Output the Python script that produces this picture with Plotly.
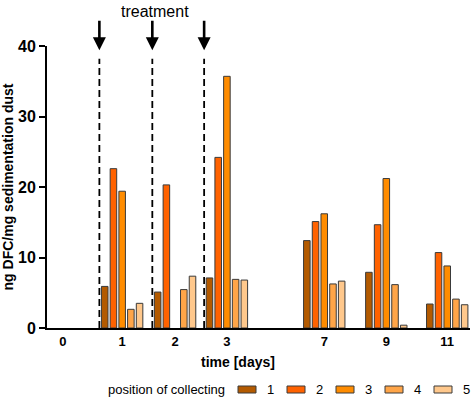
import plotly.graph_objects as go

# ---- data ----
days = ["0", "1", "2", "3", "7", "9", "11"]
pos1 = [None, 5.9, 5.1, 7.1, 12.4, 7.9, 3.4]
pos2 = [None, 22.6, 20.3, 24.2, 15.1, 14.65, 10.7]
pos3 = [None, 19.4, None, 35.7, 16.2, 21.2, 8.8]
pos4 = [None, 2.65, 5.45, 6.9, 6.25, 6.15, 4.1]
pos5 = [None, 3.5, 7.35, 6.8, 6.65, 0.4, 3.3]
series_names = ["1", "2", "3", "4", "5"]
treatment_days = ["1", "2", "3"]

# ---- layout helpers ----
slot = [0, 1.04, 1.97, 2.88, 4.59, 5.68, 6.75]  # horizontal slot of each day group
colors = ["#B35A00", "#FF6200", "#FF8C00", "#FFA548", "#FFC88C"]
pitch = 0.153
bw = 0.115

L, R, T, B = 47, 2, 46, 69
W, H = 472, 397
pw, ph = W - L - R, H - T - B
def px(x):
    return (x - L) / pw
def py(y):
    return (H - B - y) / ph

fig = go.Figure()
series = [pos1, pos2, pos3, pos4, pos5]
for i, (vals, name) in enumerate(zip(series, series_names)):
    fig.add_trace(go.Bar(
        x=slot, y=vals, name=name,
        offset=(i - 2) * pitch - bw / 2, width=bw,
        marker=dict(color=colors[i], line=dict(color="#3a3a3a", width=1)),
        showlegend=False,
    ))

shapes = []
annotations = []
for d in treatment_days:
    xv = slot[days.index(d)] - 0.4
    shapes.append(dict(type="line", xref="x", yref="y", x0=xv, x1=xv, y0=0, y1=38.2,
                       line=dict(color="black", width=1.8, dash="7px,4px")))
    annotations.append(dict(x=xv, y=39.4, xref="x", yref="y", ax=0, ay=-31,
                            showarrow=True, arrowhead=2, arrowsize=1.0, arrowwidth=2.6,
                            arrowcolor="black", text=""))
annotations.append(dict(x=px(155), y=py(12), xref="paper", yref="paper", text="treatment",
                        xanchor="center", yanchor="middle",
                        showarrow=False, font=dict(size=16, color="black")))
annotations.append(dict(x=px(238), y=py(362), xref="paper", yref="paper", text="time [days]",
                        xanchor="center", yanchor="middle",
                        showarrow=False, font=dict(size=14, color="black", weight="bold")))

# legend (custom)
annotations.append(dict(x=px(227), y=py(389), xref="paper", yref="paper",
                        text="position of collecting", xanchor="right", yanchor="middle",
                        showarrow=False, font=dict(size=13, color="black")))
for i, name in enumerate(series_names):
    x0 = 238 + i * 49
    shapes.append(dict(type="rect", xref="paper", yref="paper", x0=px(x0), x1=px(x0 + 18),
                       y0=py(386), y1=py(393), fillcolor=colors[i],
                       line=dict(color="#3a3a3a", width=1)))
    annotations.append(dict(x=px(x0 + 27), y=py(389), xref="paper", yref="paper", text=name,
                            xanchor="left", yanchor="middle",
                            showarrow=False, font=dict(size=13, color="black")))

fig.update_layout(
    width=W, height=H,
    margin=dict(l=L, r=R, t=T, b=B),
    paper_bgcolor="white", plot_bgcolor="white",
    font=dict(family="Liberation Sans, Arial, sans-serif", color="black"),
    barmode="overlay",
    shapes=shapes, annotations=annotations,
    showlegend=False,
)
fig.update_xaxes(
    range=[-0.28, 7.15], tickmode="array", tickvals=slot, ticktext=days,
    showline=True, linecolor="black", linewidth=2, ticks="", showgrid=False, zeroline=False,
    tickfont=dict(size=13, weight="bold"),
)
fig.update_yaxes(
    range=[0, 40], tickvals=[0, 10, 20, 30, 40],
    showline=True, linecolor="black", linewidth=2, ticks="outside", ticklen=6, tickwidth=2,
    tickcolor="black", showgrid=False, zeroline=False,
    tickfont=dict(size=16, weight="bold"),
    title=dict(text="ng DFC/mg sedimentation dust", font=dict(size=14, weight="bold"), standoff=6),
)
fig.write_html("out.html", config={"displayModeBar": False},
               post_script="document.body.style.margin='0';document.body.style.overflow='hidden';")
